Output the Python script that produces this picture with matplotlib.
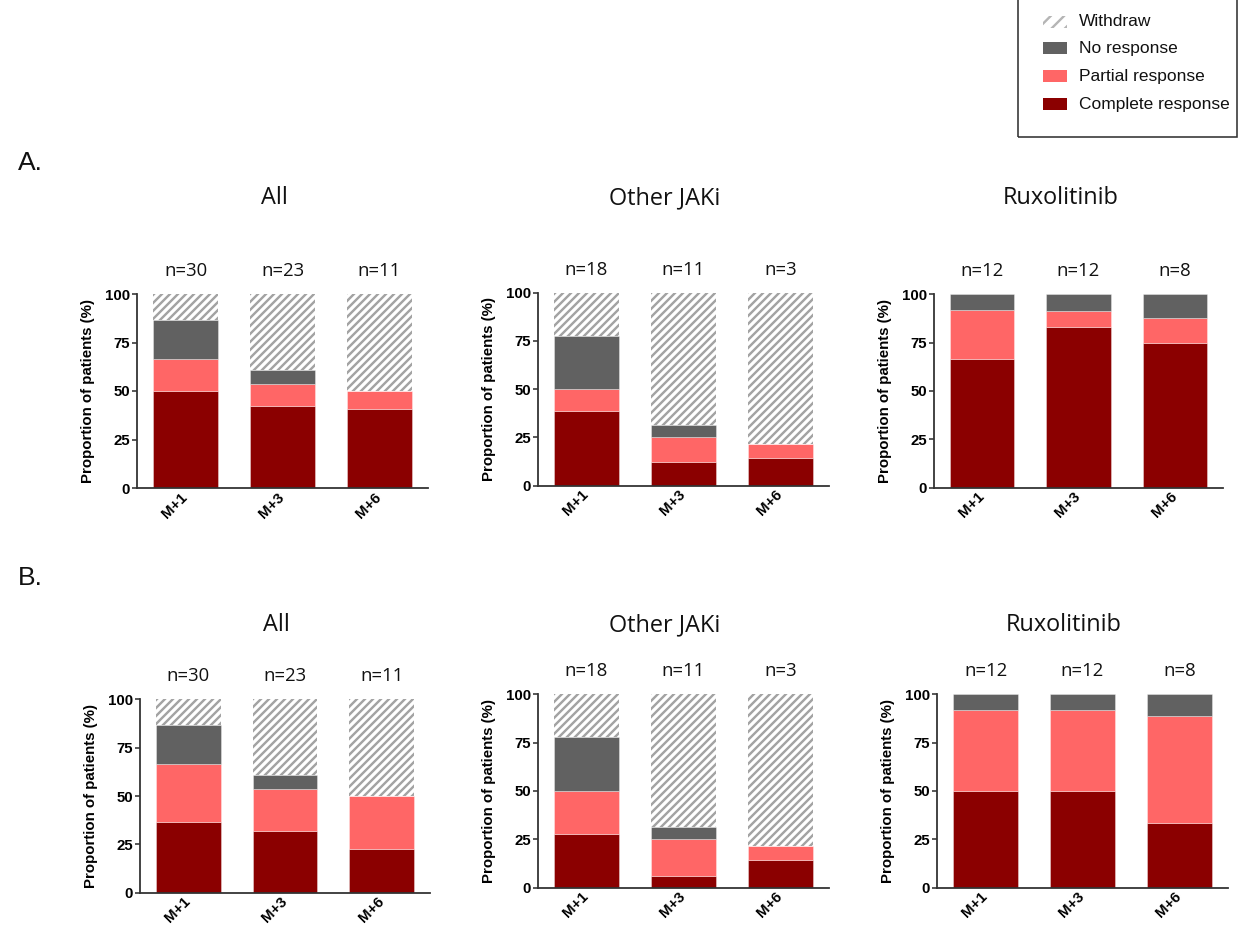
import matplotlib
matplotlib.use("Agg")
import matplotlib.pyplot as plt
from matplotlib.patches import Rectangle
import numpy as np

W, H, DPI = 1239, 927, 120


def pt(px):
    """Convert a pixel size to points at the output resolution."""
    return px * 72.0 / DPI


# ---------------------------------------------------------------- data
timepoints = ["M+1", "M+3", "M+6"]
cohorts = ["All", "Other JAKi", "Ruxolitinib"]
n_patients = [[30, 23, 11], [18, 11, 3], [12, 12, 8]]

# Section A (percent of patients), one row per cohort
a_complete = [[50.0, 42.5, 40.9], [38.9, 12.5, 14.3], [66.7, 83.3, 75.0]]
a_partial = [[16.7, 11.1, 9.1], [11.1, 12.5, 7.1], [25.0, 8.3, 12.5]]
a_none = [[20.0, 7.1, 0.0], [27.8, 6.25, 0.0], [8.3, 8.4, 12.5]]

# Section B (percent of patients), one row per cohort
b_complete = [[36.7, 32.0, 22.7], [27.8, 6.25, 14.3], [50.0, 50.0, 33.3]]
b_partial = [[30.0, 21.6, 27.3], [22.2, 18.75, 7.1], [41.7, 41.7, 55.6]]
b_none = [[20.0, 7.1, 0.0], [27.8, 6.25, 0.0], [8.3, 8.3, 11.1]]

yticks = [0, 25, 50, 75, 100]

# ---------------------------------------------------------------- style
C_COMPLETE = "#8b0000"
C_PARTIAL = "#ff6666"
C_NONE = "#616161"
C_HATCH = "#a3a3a3"
C_AXIS = "#333333"
HATCH = "/////"

plt.rcParams["hatch.linewidth"] = pt(2.4)
plt.rcParams["font.family"] = ["Liberation Sans", "DejaVu Sans"]

TITLE_FONT = ["Open Sans", "DejaVu Sans"]

fig = plt.figure(figsize=(W / DPI, H / DPI), dpi=DPI)
fig.patch.set_facecolor("white")


def px_axes(left, top, right, bottom):
    return fig.add_axes([left / W, 1 - bottom / H, (right - left) / W, (bottom - top) / H])


def draw_panel(ax, complete, partial, none, counts):
    x = np.arange(len(timepoints))
    complete = np.asarray(complete, float)
    partial = np.asarray(partial, float)
    none = np.asarray(none, float)
    total = complete + partial + none
    withdraw = 100.0 - total
    width = 0.67
    seg_edge = (1, 1, 1, 0.35)
    ax.bar(x, complete, width, color=C_COMPLETE, edgecolor=seg_edge, linewidth=0.6)
    ax.bar(x, partial, width, bottom=complete, color=C_PARTIAL,
           edgecolor=seg_edge, linewidth=0.6)
    ax.bar(x, none, width, bottom=complete + partial, color=C_NONE,
           edgecolor=seg_edge, linewidth=0.6)
    ax.bar(x, withdraw, width, bottom=total, color="white",
           edgecolor=C_HATCH, hatch=HATCH, linewidth=0)

    ax.set_xlim(-0.5, len(timepoints) - 0.5)
    ax.set_ylim(0, 100)
    ax.set_yticks(yticks)
    ax.set_yticklabels([str(t) for t in yticks], fontweight="bold", fontsize=pt(15))
    ax.set_xticks(x)
    ax.set_xticklabels(timepoints, fontweight="bold", fontsize=pt(15),
                       rotation=45, ha="right", va="center", rotation_mode="anchor")
    ax.tick_params(axis="y", direction="out", length=pt(5), width=pt(1.6),
                   color=C_AXIS, pad=pt(2))
    ax.tick_params(axis="x", length=0, pad=pt(7))
    for side in ("top", "right"):
        ax.spines[side].set_visible(False)
    for side in ("left", "bottom"):
        ax.spines[side].set_linewidth(pt(1.8))
        ax.spines[side].set_color(C_AXIS)

    ax.set_ylabel("Proportion of patients (%)", fontweight="bold", fontsize=pt(15))
    bbox = ax.get_position()
    ax.yaxis.set_label_coords(-42 / (bbox.width * W), 0.5)

    for i, n in enumerate(counts):
        ax.annotate(f"n={n}", xy=(i, 1.0), xycoords=("data", "axes fraction"),
                    xytext=(0, pt(23)), textcoords="offset points",
                    ha="center", va="center", fontsize=pt(18.5),
                    family=TITLE_FONT, color="#111111")


# pixel boxes (left, top, right, bottom) for each panel
boxes_a = [(137, 294, 428, 488), (538, 292.7, 829, 485.7), (934, 294.3, 1223, 487.7)]
boxes_b = [(140, 699.3, 430, 892.7), (538, 694.3, 829, 887.7), (937, 694.3, 1228, 887.7)]

title_x_a = [274, 665, 1061]
title_x_b = [276, 665, 1064]

sections = [
    ("A.", 163, 198, boxes_a, title_x_a, a_complete, a_partial, a_none),
    ("B.", 578, 625, boxes_b, title_x_b, b_complete, b_partial, b_none),
]

for label, label_y, title_y, boxes, title_xs, comp, part, nores in sections:
    fig.text(18 / W, 1 - label_y / H, label, ha="left", va="center",
             fontsize=pt(26.5), color="#111111")
    for k, cohort in enumerate(cohorts):
        ax = px_axes(*boxes[k])
        draw_panel(ax, comp[k], part[k], nores[k], n_patients[k])
        fig.text(title_xs[k] / W, 1 - title_y / H, cohort, ha="center", va="center",
                 fontsize=pt(23.5), family=TITLE_FONT, color="#111111")

# ---------------------------------------------------------------- legend
fig.add_artist(Rectangle((1018 / W, 1 - 137 / H), 219 / W, 150 / H,
                         transform=fig.transFigure, fill=False,
                         edgecolor=C_AXIS, linewidth=pt(1.6)))
legend_rows = [
    ("Withdraw", dict(facecolor="white", edgecolor="#b5b5b5", hatch="///", linewidth=0), 22),
    ("No response", dict(facecolor=C_NONE, linewidth=0), 48),
    ("Partial response", dict(facecolor=C_PARTIAL, linewidth=0), 76),
    ("Complete response", dict(facecolor=C_COMPLETE, linewidth=0), 104),
]
for text, style, cy in legend_rows:
    fig.add_artist(Rectangle((1043 / W, 1 - (cy + 6) / H), 24 / W, 12 / H,
                             transform=fig.transFigure, **style))
    fig.text(1079 / W, 1 - cy / H, text, ha="left", va="center",
             fontsize=pt(17.4), color="#111111")

fig.savefig("out.png", dpi=DPI, facecolor="white")
